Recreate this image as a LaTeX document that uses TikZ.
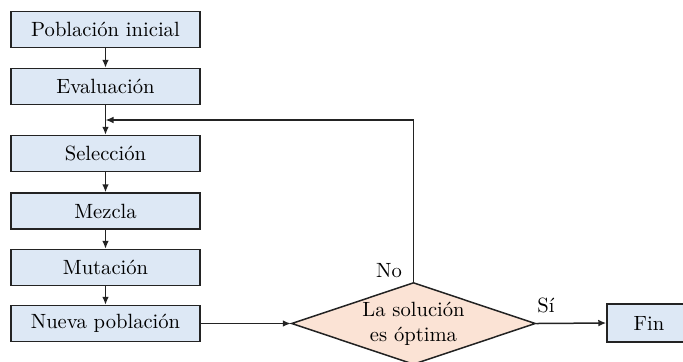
\documentclass[tikz,border=0pt]{standalone}
\usepackage{fontspec}
\usetikzlibrary{shapes.geometric,arrows.meta,calc}
\definecolor{boxblue}{RGB}{221,232,245}
\definecolor{diapeach}{RGB}{251,227,213}
\definecolor{linegray}{RGB}{35,35,35}
\begin{document}
\begin{tikzpicture}[x=0.5pt,y=-0.5pt,
  every node/.style={font=\fontsize{10.3}{12.5}\selectfont},
  stepbox/.style={draw=linegray,line width=0.75pt,fill=boxblue,rectangle,inner sep=0pt,
    minimum width=94.5pt,minimum height=18pt},
  decision/.style={draw=linegray,line width=0.75pt,fill=diapeach,diamond,aspect=3,inner sep=0pt,
    minimum width=122pt,minimum height=41pt,align=center},
  arr/.style={draw=linegray,line width=0.75pt,-{Latex[length=4pt,width=3.4pt]}},
  lbl/.style={inner sep=0pt}]
\useasboundingbox (0,0) rectangle (683,361);
\clip (0,0) rectangle (683,361);
\node[stepbox] (b1) at (105.5,29.5) {Población inicial};
\node[stepbox] (b2) at (105.5,86.5) {Evaluación};
\node[stepbox] (b3) at (105.5,153.5) {Selección};
\node[stepbox] (b4) at (105.5,211) {Mezcla};
\node[stepbox] (b5) at (105.5,267.5) {Mutación};
\node[stepbox] (b6) at (105.5,323.5) {Nueva población};
\node[decision] (d) at (413.5,323.5) {La solución\\es óptima};
\node[stepbox,minimum width=42pt,minimum height=19pt] (fin) at (649,323) {Fin};
\node[lbl] (no) at (389,271) {No};
\node[lbl] (si) at (546,305) {Sí};
\coordinate (fb) at ($(b2.south)!0.5!(b3.north)$);
\draw[arr] (b1) -- (b2);
\draw[arr] (b2) -- (b3);
\draw[arr] (b3) -- (b4);
\draw[arr] (b4) -- (b5);
\draw[arr] (b5) -- (b6);
\draw[arr] (b6.east) -- (d.west);
\draw[arr] (d.east) -- (fin.west);
\draw[arr] (d.north) |- (fb);
\end{tikzpicture}
\end{document}
